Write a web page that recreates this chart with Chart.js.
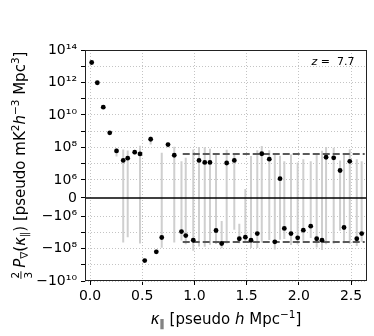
<!DOCTYPE html>
<html>
<head>
<meta charset="utf-8">
<script src="https://cdn.jsdelivr.net/npm/chart.js@4.4.1/dist/chart.umd.min.js"></script>
<style>
  html, body { margin: 0; padding: 0; background: #fff; }
  #wrap { width: 374px; height: 336px; }
</style>
</head>
<body>
<div id="wrap"><canvas id="chart" width="374" height="336"></canvas></div>
<script>
// values
const kPar = [0.016, 0.070, 0.127, 0.189, 0.254, 0.318, 0.361, 0.428, 0.479, 0.524,
  0.581, 0.635, 0.687, 0.747, 0.807, 0.876, 0.917, 0.989, 1.044, 1.099,
  1.149, 1.207, 1.261, 1.309, 1.382, 1.430, 1.488, 1.542, 1.602, 1.645,
  1.717, 1.770, 1.820, 1.861, 1.925, 1.989, 2.043, 2.114, 2.171, 2.222,
  2.261, 2.334, 2.395, 2.433, 2.488, 2.555, 2.602];
const power = [1.7e13, 9.6e11, 3.0e10, 8.0e8, 6.1e7, 1.6e7, 2.2e7, 5.1e7, 4.0e7, -5.5e8,
  3.2e8, -1.6e8, -2.1e7, 1.5e8, 3.3e7, -9.0e6, -1.6e7, -3.1e7, 1.6e7, 1.2e7,
  1.2e7, -7.8e6, -4.9e7, 1.1e7, 1.6e7, -2.5e7, -2.0e7, -3.1e7, -1.2e7, 4.1e7,
  1.9e7, -3.9e7, 1.2e6, -5.8e6, -1.2e7, -2.2e7, -7.4e6, -4.2e6, -2.5e7, -3.1e7,
  2.5e7, 2.3e7, 3.8e6, -5.1e6, 1.4e7, -2.5e7, -1.2e7];
const sigma = [0, 0, 0, 0, 3.3e7, 5.9e7, 4.2e7, 1.5e7, 8.9e7, 1.0e8,
  1.7e8, 5.0e7, 6.8e7, 5.0e7, 7.6e7, 2.3e7, 3.9e7, 1.06e8, 9.0e7, 9.0e7,
  7.0e7, 4.5e7, 4.7e7, 6.0e7, 2.3e7, 2.2e7, 2.05e7, 6.1e7, 8.0e7, 8.4e7,
  4.9e7, 7.6e7, 3.0e7, 2.0e7, 4.9e7, 3.4e7, 2.6e7, 1.85e7, 6.2e7, 9.4e7,
  8.0e7, 7.3e7, 1.2e7, 4.2e7, 6.4e7, 4.4e7, 2.6e7];
const noiseLevel = 4.0e7;
const noiseK = [0.888, 2.631];
const redshift = '7.7';

const xRange = [-0.048, 2.653];
const yRange = [-1e10, 1e14];
const xTicks = [0, 0.5, 1.0, 1.5, 2.0, 2.5];
const yMajor = [-1e10, -1e8, -1e6, 0, 1e6, 1e8, 1e10, 1e12, 1e14];
const yMajorLabels = ['−10¹⁰', '−10⁸', '−10⁶', '0', '10⁶', '10⁸', '10¹⁰', '10¹²', '10¹⁴'];
const yMinor = [-1e9, -1e7, 1e7, 1e9, 1e11, 1e13];

// symlog, linthresh 1e6, linscale 1 (like matplotlib)
const LINTHRESH = 1e6;
const LINSCALE = 1 / (1 - 1 / 10);
function symlog(v) {
  const a = Math.abs(v);
  if (a <= LINTHRESH) return v / LINTHRESH * LINSCALE;
  return Math.sign(v) * (LINSCALE + Math.log10(a / LINTHRESH));
}
function symexp(t) {
  const a = Math.abs(t);
  if (a <= LINSCALE) return t / LINSCALE * LINTHRESH;
  return Math.sign(t) * LINTHRESH * Math.pow(10, a - LINSCALE);
}

class SymlogScale extends Chart.LinearScale {
  determineDataLimits() {
    this.min = this.options.min;
    this.max = this.options.max;
  }
  buildTicks() {
    return yMajor.concat(yMinor).sort((a, b) => a - b).map(v => ({ value: v }));
  }
  configure() {
    super.configure();
    this._tLo = symlog(this.min);
    this._tHi = symlog(this.max);
  }
  getPixelForValue(v) {
    return this.getPixelForDecimal((symlog(v) - this._tLo) / (this._tHi - this._tLo));
  }
  getValueForPixel(p) {
    return symexp(this._tLo + this.getDecimalForPixel(p) * (this._tHi - this._tLo));
  }
}
SymlogScale.id = 'symlog';
SymlogScale.defaults = Chart.LinearScale.defaults;
Chart.register(SymlogScale);

const FONT = '"DejaVu Sans", sans-serif';
const SIZE = 14;
const TITLE = 15;
const SMALL = 10.5;

// error bars as gapped vertical segments
const barPoints = [];
kPar.forEach((k, i) => {
  if (!sigma[i]) return;
  barPoints.push({ x: k, y: power[i] - sigma[i] }, { x: k, y: power[i] + sigma[i] }, { x: k, y: null });
});

function fontOf(p) {
  return (p.italic ? 'italic ' : '') + (p.size || TITLE) + 'px ' + FONT;
}

// mixed-size text: parts drawn left to right, centred on cx
function drawRich(ctx, parts, cx, baseY) {
  let total = 0;
  parts.forEach(p => {
    if (p.frac) {
      ctx.font = fontOf({ size: p.size });
      p.w = Math.max(ctx.measureText(p.frac[0]).width, ctx.measureText(p.frac[1]).width) + 2;
    } else {
      ctx.font = fontOf(p);
      p.w = ctx.measureText(p.t).width;
    }
    total += p.w + (p.gap || 0);
  });
  let x = cx - total / 2;
  ctx.textBaseline = 'alphabetic';
  parts.forEach(p => {
    if (p.frac) {
      ctx.font = fontOf({ size: p.size });
      ctx.textAlign = 'center';
      ctx.fillText(p.frac[0], x + p.w / 2, baseY - 6);
      ctx.fillText(p.frac[1], x + p.w / 2, baseY + 7);
      ctx.fillRect(x + 0.5, baseY - 4.5, p.w - 1, 0.9);
    } else {
      ctx.font = fontOf(p);
      ctx.textAlign = 'left';
      ctx.fillText(p.t, x, baseY + (p.dy || 0));
    }
    x += p.w + (p.gap || 0);
  });
}

const yTitle = [
  { frac: ['2', '3'], size: SMALL, gap: 3 },
  { t: 'P', italic: true }, { t: '∇', size: SMALL, dy: 3 },
  { t: '(' }, { t: 'κ', italic: true }, { t: '∥', size: SMALL, dy: 3 }, { t: ')' },
  { t: ' [pseudo mK' }, { t: '2', size: SMALL, dy: -6.5 },
  { t: 'h', italic: true }, { t: '−3', size: SMALL, dy: -6.5 },
  { t: ' Mpc' }, { t: '3', size: SMALL, dy: -6.5 }, { t: ']' }
];
const xTitle = [
  { t: 'κ', italic: true }, { t: '∥', size: SMALL, dy: 3 },
  { t: ' [pseudo ' }, { t: 'h', italic: true }, { t: ' Mpc' },
  { t: '−1', size: SMALL, dy: -6.5 }, { t: ']' }
];

const decor = {
  id: 'decor',
  afterDraw(chart) {
    const { ctx, chartArea: a } = chart;
    ctx.save();
    ctx.strokeStyle = '#222';
    ctx.lineWidth = 1;
    ctx.strokeRect(a.left + 0.5, a.top + 0.5, a.right - a.left - 1, a.bottom - a.top - 1);
    ctx.fillStyle = '#000';
    drawRich(ctx, xTitle, (a.left + a.right) / 2, 324);
    ctx.save();
    ctx.translate(25, (a.top + a.bottom) / 2);
    ctx.rotate(-Math.PI / 2);
    drawRich(ctx, yTitle, 0, 0);
    ctx.restore();
    drawRich(ctx, [{ t: 'z', italic: true, size: 11 }, { t: ' =  ' + redshift, size: 11 }], 333, 65);
    ctx.restore();
  }
};

new Chart(document.getElementById('chart'), {
  type: 'scatter',
  data: {
    datasets: [
      {
        data: barPoints,
        showLine: true,
        spanGaps: false,
        borderColor: '#cfcfcf',
        borderWidth: 2,
        pointRadius: 0,
        order: 4
      },
      {
        data: [{ x: xRange[0], y: 0 }, { x: xRange[1], y: 0 }],
        showLine: true,
        borderColor: '#000',
        borderWidth: 1.5,
        pointRadius: 0,
        order: 3
      },
      {
        data: [{ x: noiseK[0], y: noiseLevel }, { x: noiseK[1], y: noiseLevel }],
        showLine: true,
        borderColor: '#5a5a5a',
        borderWidth: 2,
        borderDash: [7, 3],
        pointRadius: 0,
        order: 2
      },
      {
        data: [{ x: noiseK[0], y: -noiseLevel }, { x: noiseK[1], y: -noiseLevel }],
        showLine: true,
        borderColor: '#5a5a5a',
        borderWidth: 2,
        borderDash: [7, 3],
        pointRadius: 0,
        order: 2
      },
      {
        data: kPar.map((k, i) => ({ x: k, y: power[i] })),
        pointRadius: 2.4,
        pointBackgroundColor: '#000',
        pointBorderWidth: 0,
        order: 1
      }
    ]
  },
  options: {
    responsive: false,
    animation: false,
    events: [],
    layout: { padding: { left: 0, right: 7, top: 50, bottom: 0 } },
    plugins: { legend: { display: false }, tooltip: { enabled: false } },
    scales: {
      x: {
        type: 'linear',
        min: xRange[0],
        max: xRange[1],
        afterBuildTicks: s => { s.ticks = xTicks.map(v => ({ value: v })); },
        afterFit: s => { s.height = 55; },
        ticks: {
          autoSkip: false,
          maxRotation: 0,
          padding: 3,
          color: '#000',
          font: { family: FONT, size: SIZE },
          callback: v => v.toFixed(1)
        },
        grid: { color: '#c4c4c4', lineWidth: 1, tickLength: 4, tickColor: '#000', tickWidth: 1 },
        border: { display: false, dash: [1, 2] }
      },
      y: {
        type: 'symlog',
        min: yRange[0],
        max: yRange[1],
        afterFit: s => { s.width = 85; },
        ticks: {
          autoSkip: false,
          padding: 4,
          color: '#000',
          font: { family: FONT, size: SIZE },
          callback: v => {
            const i = yMajor.indexOf(v);
            return i >= 0 ? yMajorLabels[i] : '';
          }
        },
        grid: {
          color: ctx => (ctx.tick && ctx.tick.value === 0 ? 'rgba(0,0,0,0)' : '#c4c4c4'),
          lineWidth: 1,
          tickLength: 4,
          tickColor: '#000',
          tickWidth: 1
        },
        border: { display: false, dash: [1, 2] }
      }
    }
  },
  plugins: [decor]
});
</script>
</body>
</html>
